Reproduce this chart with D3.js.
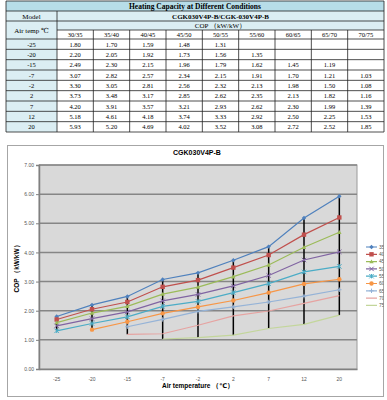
<!DOCTYPE html>
<html>
<head>
<meta charset="utf-8">
<script src="https://cdn.jsdelivr.net/npm/d3@7"></script>
<style>
  body { margin: 0; background: #fff; }
  svg { display: block; }
</style>
</head>
<body>
<svg id="page" width="387" height="400"></svg>
<script>
// table + chart data
var airTemps = [-25, -20, -15, -7, -2, 2, 7, 12, 20];
var conditions = ["30/35", "35/40", "40/45", "45/50", "50/55", "55/60", "60/65", "65/70", "70/75"];
var cop25 = [1.80, 1.70, 1.59, 1.48, 1.31, null, null, null, null];
var cop20 = [2.20, 2.05, 1.92, 1.73, 1.56, 1.35, null, null, null];
var cop15 = [2.49, 2.30, 2.15, 1.96, 1.79, 1.62, 1.45, 1.19, null];
var cop7  = [3.07, 2.82, 2.57, 2.34, 2.15, 1.91, 1.70, 1.21, 1.03];
var cop2m = [3.30, 3.05, 2.81, 2.56, 2.32, 2.13, 1.98, 1.50, 1.08];
var cop2  = [3.73, 3.48, 3.17, 2.85, 2.62, 2.35, 2.13, 1.82, 1.16];
var cop7p = [4.20, 3.91, 3.57, 3.21, 2.93, 2.62, 2.30, 1.99, 1.39];
var cop12 = [5.18, 4.61, 4.18, 3.74, 3.33, 2.92, 2.50, 2.25, 1.53];
var cop20p = [5.93, 5.20, 4.69, 4.02, 3.52, 3.08, 2.72, 2.52, 1.85];
var copRows = [cop25, cop20, cop15, cop7, cop2m, cop2, cop7p, cop12, cop20p];

var yTicks = [0, 1, 2, 3, 4, 5, 6, 7];
var seriesColors = ["#4f81bd", "#c0504d", "#9bbb59", "#8064a2", "#4bacc6",
                    "#f79646", "#95b3d7", "#e6a3a1", "#c3d69b"];
var seriesMarkers = ["diamond", "square", "triangle", "x", "star", "circle", "plus", null, null];

var svg = d3.select("#page");

/* ---------------- table ---------------- */
var tLeft = 6, tRight = 384, firstCol = 51;
var colX = d3.scaleBand().domain(conditions).range([tLeft + firstCol, tRight]);
var rowY = d3.scaleBand().domain(airTemps).range([39, 132]);
var lightBlue = "#dbeef3", tblLine = "#222";
var serif = "'Liberation Serif', 'DejaVu Serif', serif";

var tbl = svg.append("g").attr("font-family", serif).attr("fill", "#000");

// header backgrounds
tbl.append("rect").attr("x", tLeft).attr("y", 1).attr("width", tRight - tLeft).attr("height", 10)
   .attr("fill", "#b7dde8");
tbl.append("rect").attr("x", tLeft).attr("y", 11).attr("width", tRight - tLeft).attr("height", 19)
   .attr("fill", lightBlue);
tbl.append("rect").attr("x", tLeft).attr("y", 30).attr("width", firstCol).attr("height", 102)
   .attr("fill", lightBlue);

function hline(y, x1, x2) {
  tbl.append("line").attr("x1", x1).attr("x2", x2).attr("y1", y).attr("y2", y)
     .attr("stroke", tblLine).attr("stroke-width", 0.8);
}
function vline(x, y1, y2) {
  tbl.append("line").attr("x1", x).attr("x2", x).attr("y1", y1).attr("y2", y2)
     .attr("stroke", tblLine).attr("stroke-width", 0.8);
}
hline(1, tLeft, tRight);
hline(11, tLeft, tRight);
hline(21, tLeft, tRight);
hline(30, tLeft + firstCol, tRight);
hline(39, tLeft, tRight);
airTemps.forEach(function(t) { hline(rowY(t) + rowY.bandwidth(), tLeft, tRight); });
vline(tLeft, 1, 132);
vline(tRight, 1, 132);
vline(tLeft + firstCol, 11, 132);
conditions.slice(1).forEach(function(c) { vline(colX(c), 30, 132); });

tbl.append("text").attr("x", (tLeft + tRight) / 2).attr("y", 8.5)
   .attr("text-anchor", "middle").attr("font-size", 7.5).attr("font-weight", "bold")
   .text("Heating Capacity at Different Conditions");
tbl.append("text").attr("x", tLeft + firstCol / 2).attr("y", 18.5)
   .attr("text-anchor", "middle").attr("font-size", 7).text("Model");
tbl.append("text").attr("x", (tLeft + firstCol + tRight) / 2).attr("y", 18.5)
   .attr("text-anchor", "middle").attr("font-size", 7).attr("font-weight", "bold")
   .text("CGK030V4P-B/CGK-030V4P-B");
tbl.append("text").attr("x", tLeft + firstCol / 2).attr("y", 32.5)
   .attr("text-anchor", "middle").attr("font-size", 7).text("Air temp ℃");
tbl.append("text").attr("x", (tLeft + firstCol + tRight) / 2).attr("y", 27.5)
   .attr("text-anchor", "middle").attr("font-size", 7).text("COP （kW/kW）");

tbl.selectAll("text.cond").data(conditions).enter().append("text")
   .attr("x", function(d) { return colX(d) + colX.bandwidth() / 2; })
   .attr("y", 37)
   .attr("text-anchor", "middle").attr("font-size", 6.5).text(function(d) { return d; });

airTemps.forEach(function(t, i) {
  var y = rowY(t) + rowY.bandwidth() / 2 + 2.4;
  tbl.append("text").attr("x", tLeft + firstCol / 2).attr("y", y)
     .attr("text-anchor", "middle").attr("font-size", 6.5).text(t);
  copRows[i].forEach(function(v, j) {
    if (v == null) return;
    tbl.append("text").attr("x", colX(conditions[j]) + colX.bandwidth() / 2).attr("y", y)
       .attr("text-anchor", "middle").attr("font-size", 6.5).text(v.toFixed(2));
  });
});

/* ---------------- chart ---------------- */
var sans = "'Liberation Sans', 'DejaVu Sans', Arial, sans-serif";
var chart = svg.append("g").attr("font-family", sans);

chart.append("rect").attr("x", 7.5).attr("y", 145.5).attr("width", 376).attr("height", 251)
     .attr("fill", "#fff").attr("stroke", "#a6a6a6").attr("stroke-width", 1);

var plot = {left: 39, right: 357, top: 165, bottom: 369};
var xscale = d3.scaleBand().domain(airTemps).range([plot.left, plot.right]);
var yscale = d3.scaleLinear().domain([0, 7]).range([plot.bottom, plot.top]);
var xc = function(t) { return xscale(t) + xscale.bandwidth() / 2; };

chart.append("rect").attr("x", plot.left).attr("y", plot.top)
     .attr("width", plot.right - plot.left).attr("height", plot.bottom - plot.top)
     .attr("fill", "#d9d9d9").attr("stroke", "#9a9a9a");

// gridlines
chart.selectAll("line.grid").data(yTicks.slice(1)).enter().append("line")
     .attr("x1", plot.left).attr("x2", plot.right)
     .attr("y1", function(d) { return yscale(d); }).attr("y2", function(d) { return yscale(d); })
     .attr("stroke", "#868686").attr("stroke-width", 1.5);

// y axis
var yAxis = chart.append("g").attr("transform", "translate(" + plot.left + ",0)")
  .call(d3.axisLeft(yscale).tickValues(yTicks).tickFormat(d3.format(".2f")).tickSize(3).tickPadding(2));
yAxis.select(".domain").attr("stroke", "#808080").attr("stroke-width", 1.5);
yAxis.selectAll(".tick line").attr("stroke", "#808080");
yAxis.selectAll("text").attr("font-size", 5).attr("fill", "#555").attr("font-family", sans);

// x axis
var xAxis = chart.append("g").attr("transform", "translate(0," + plot.bottom + ")")
  .call(d3.axisBottom(xscale).tickSize(0).tickPadding(8));
xAxis.select(".domain").attr("stroke", "#808080").attr("stroke-width", 1.5);
xAxis.selectAll("text").attr("font-size", 5).attr("fill", "#555").attr("font-family", sans);

chart.append("text").attr("x", 197).attr("y", 155)
     .attr("text-anchor", "middle").attr("font-size", 7).attr("font-weight", "bold")
     .text("CGK030V4P-B");
chart.append("text").attr("x", (plot.left + plot.right) / 2).attr("y", 388)
     .attr("text-anchor", "middle").attr("font-size", 6.5).attr("font-weight", "bold")
     .text("Air temperature （℃）");
chart.append("text")
     .attr("transform", "translate(19," + ((plot.top + plot.bottom) / 2) + ")rotate(-90)")
     .attr("text-anchor", "middle").attr("font-size", 6.5).attr("font-weight", "bold")
     .text("COP （kW/kW）");

// high-low lines
var hiLo = chart.append("g");
airTemps.forEach(function(t, i) {
  var vals = copRows[i].filter(function(v) { return v != null; });
  hiLo.append("line").attr("x1", xc(t)).attr("x2", xc(t))
      .attr("y1", yscale(d3.max(vals))).attr("y2", yscale(d3.min(vals)))
      .attr("stroke", "#000").attr("stroke-width", 1.5);
});

// series
var line = d3.line()
  .defined(function(d) { return d.v != null; })
  .x(function(d) { return xc(d.t); })
  .y(function(d) { return yscale(d.v); });

function drawMarker(g, type, color, x, y) {
  var s = 2.2;
  if (type === "diamond") {
    g.append("path").attr("d", "M" + x + "," + (y - s) + "L" + (x + s) + "," + y + "L" + x + "," + (y + s) + "L" + (x - s) + "," + y + "Z").attr("fill", color);
  } else if (type === "square") {
    g.append("rect").attr("x", x - s).attr("y", y - s).attr("width", 2 * s).attr("height", 2 * s).attr("fill", color);
  } else if (type === "triangle") {
    g.append("path").attr("d", "M" + x + "," + (y - s) + "L" + (x + s) + "," + (y + s * 0.8) + "L" + (x - s) + "," + (y + s * 0.8) + "Z").attr("fill", color);
  } else if (type === "circle") {
    g.append("circle").attr("cx", x).attr("cy", y).attr("r", s).attr("fill", color);
  } else if (type === "x" || type === "star" || type === "plus") {
    var p = "";
    if (type !== "plus") p += "M" + (x - s) + "," + (y - s) + "L" + (x + s) + "," + (y + s) + "M" + (x - s) + "," + (y + s) + "L" + (x + s) + "," + (y - s);
    if (type !== "x") p += "M" + x + "," + (y - s) + "L" + x + "," + (y + s);
    if (type === "plus") p += "M" + (x - s) + "," + y + "L" + (x + s) + "," + y;
    g.append("path").attr("d", p).attr("stroke", color).attr("stroke-width", 1).attr("fill", "none");
  }
}

var seriesG = chart.append("g");
conditions.forEach(function(c, j) {
  var pts = airTemps.map(function(t, i) { return {t: t, v: copRows[i][j]}; });
  seriesG.append("path").datum(pts).attr("d", line)
         .attr("fill", "none").attr("stroke", seriesColors[j]).attr("stroke-width", 1.2);
  if (seriesMarkers[j]) {
    pts.forEach(function(p) {
      if (p.v != null) drawMarker(seriesG, seriesMarkers[j], seriesColors[j], xc(p.t), yscale(p.v));
    });
  }
});

// legend, clipped by chart frame
svg.append("clipPath").attr("id", "frameClip").append("rect")
   .attr("x", 7).attr("y", 145).attr("width", 376.5).attr("height", 252);
var legend = chart.append("g").attr("clip-path", "url(#frameClip)");
conditions.forEach(function(c, j) {
  var y = 247 + j * 7.3;
  legend.append("line").attr("x1", 366).attr("x2", 377).attr("y1", y).attr("y2", y)
        .attr("stroke", seriesColors[j]).attr("stroke-width", 1.2);
  if (seriesMarkers[j]) drawMarker(legend, seriesMarkers[j], seriesColors[j], 371.5, y);
  legend.append("text").attr("x", 379).attr("y", y + 1.8).attr("font-size", 5)
        .attr("fill", "#555").text(c.split("/")[1]);
});
</script>
</body>
</html>
